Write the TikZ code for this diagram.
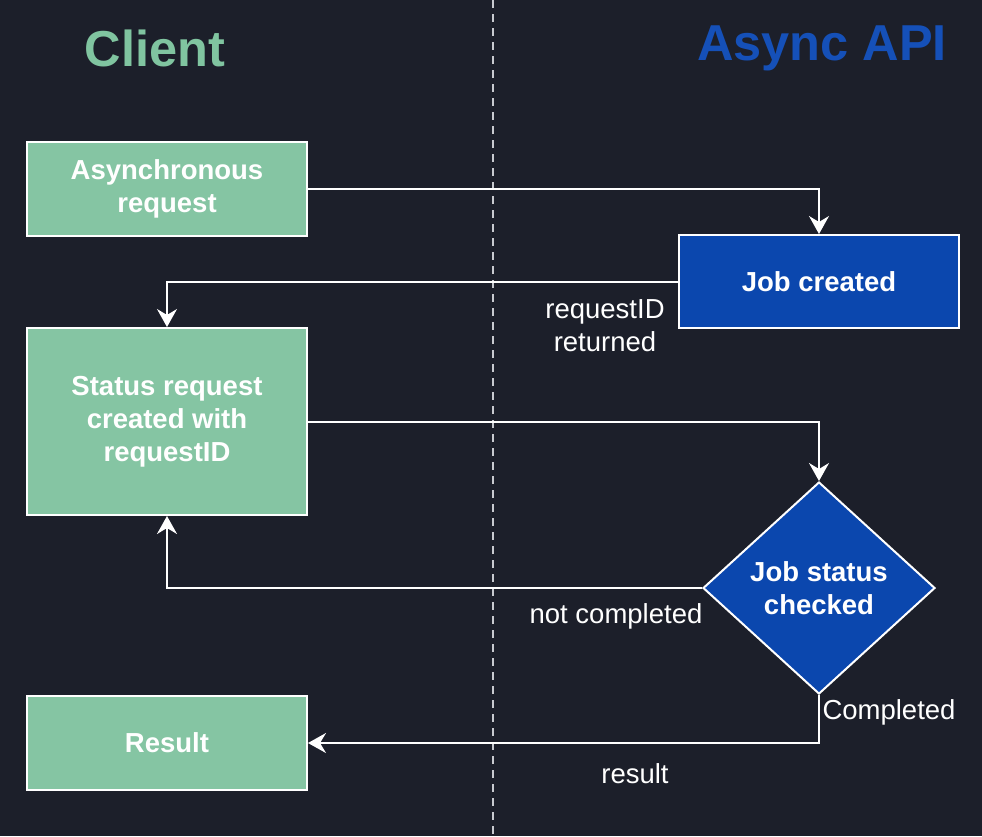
\documentclass[tikz,border=0pt]{standalone}
\usepackage{fontspec}
\setmainfont{Liberation Sans}
\usetikzlibrary{shapes.geometric,arrows.meta}
\definecolor{bg}{HTML}{1C1F2A}
\definecolor{cgreen}{HTML}{85C5A3}
\definecolor{tgreen}{HTML}{80C4A0}
\definecolor{cblue}{HTML}{0B47AE}
\definecolor{tblue}{HTML}{1550B8}
\definecolor{sep}{HTML}{C8CAD0}
\tikzset{
  x=1pt, y=-1pt,
  txt/.style={font=\fontsize{27.5}{33}\selectfont, text=white, align=center},
  clientbox/.style={draw=white, line width=2pt, fill=cgreen, minimum width=280pt, inner sep=0pt, txt, font=\fontsize{27.5}{33}\selectfont\bfseries},
  apibox/.style={draw=white, line width=2pt, fill=cblue, minimum width=280pt, inner sep=0pt, txt, font=\fontsize{27.5}{33}\selectfont\bfseries},
  decision/.style={diamond, draw=white, line width=2pt, fill=cblue, aspect=1.094, minimum width=232pt, minimum height=212pt, inner sep=0pt, txt, font=\fontsize{27.5}{33}\selectfont\bfseries},
  arr/.style={draw=white, line width=2pt, -{Stealth[length=18pt,width=20pt,inset=6pt]}},
  lbl/.style={txt},
  title/.style={font=\fontsize{50.5}{60}\selectfont\bfseries}
}
\begin{document}
\begin{tikzpicture}
\fill[bg] (0,0) rectangle (982,836);
\useasboundingbox (0,0) rectangle (982,836);
\coordinate (septop) at (493,0);
\coordinate (sepbot) at (493,836);
\draw[sep, line width=2pt, dash pattern=on 8pt off 6pt] (septop) -- (sepbot);

\node[title, text=tgreen] (tc) at (155,48) {Client};
\node[title, text=tblue] (ta) at (822,48) {Async API};

\node[clientbox, minimum height=94pt] (a) at (167,189) {Asynchronous\\request};
\node[apibox, minimum height=93pt] (j) at (819,281.5) {Job created};
\node[clientbox, minimum height=187pt] (s) at (167,421.5) {Status request\\created with\\requestID};
\node[decision] (d) at (819,588) {Job status\\checked};
\node[clientbox, minimum height=94pt] (r) at (167,743) {Result};

\draw[arr] (a.east) -| (j.north);
\draw[arr] (j.west) -| (s.north);
\draw[arr] (s.east) -| (d.north);
\draw[arr] (d.west) -| (s.south);
\draw[arr] (d.south) |- (r.east);

\node[lbl] (l1) at (605,326) {requestID\\returned};
\node[lbl] (l2) at (616,616) {not completed};
\node[lbl] (l3) at (889,712) {Completed};
\node[lbl] (l4) at (635,774) {result};
\end{tikzpicture}
\end{document}
